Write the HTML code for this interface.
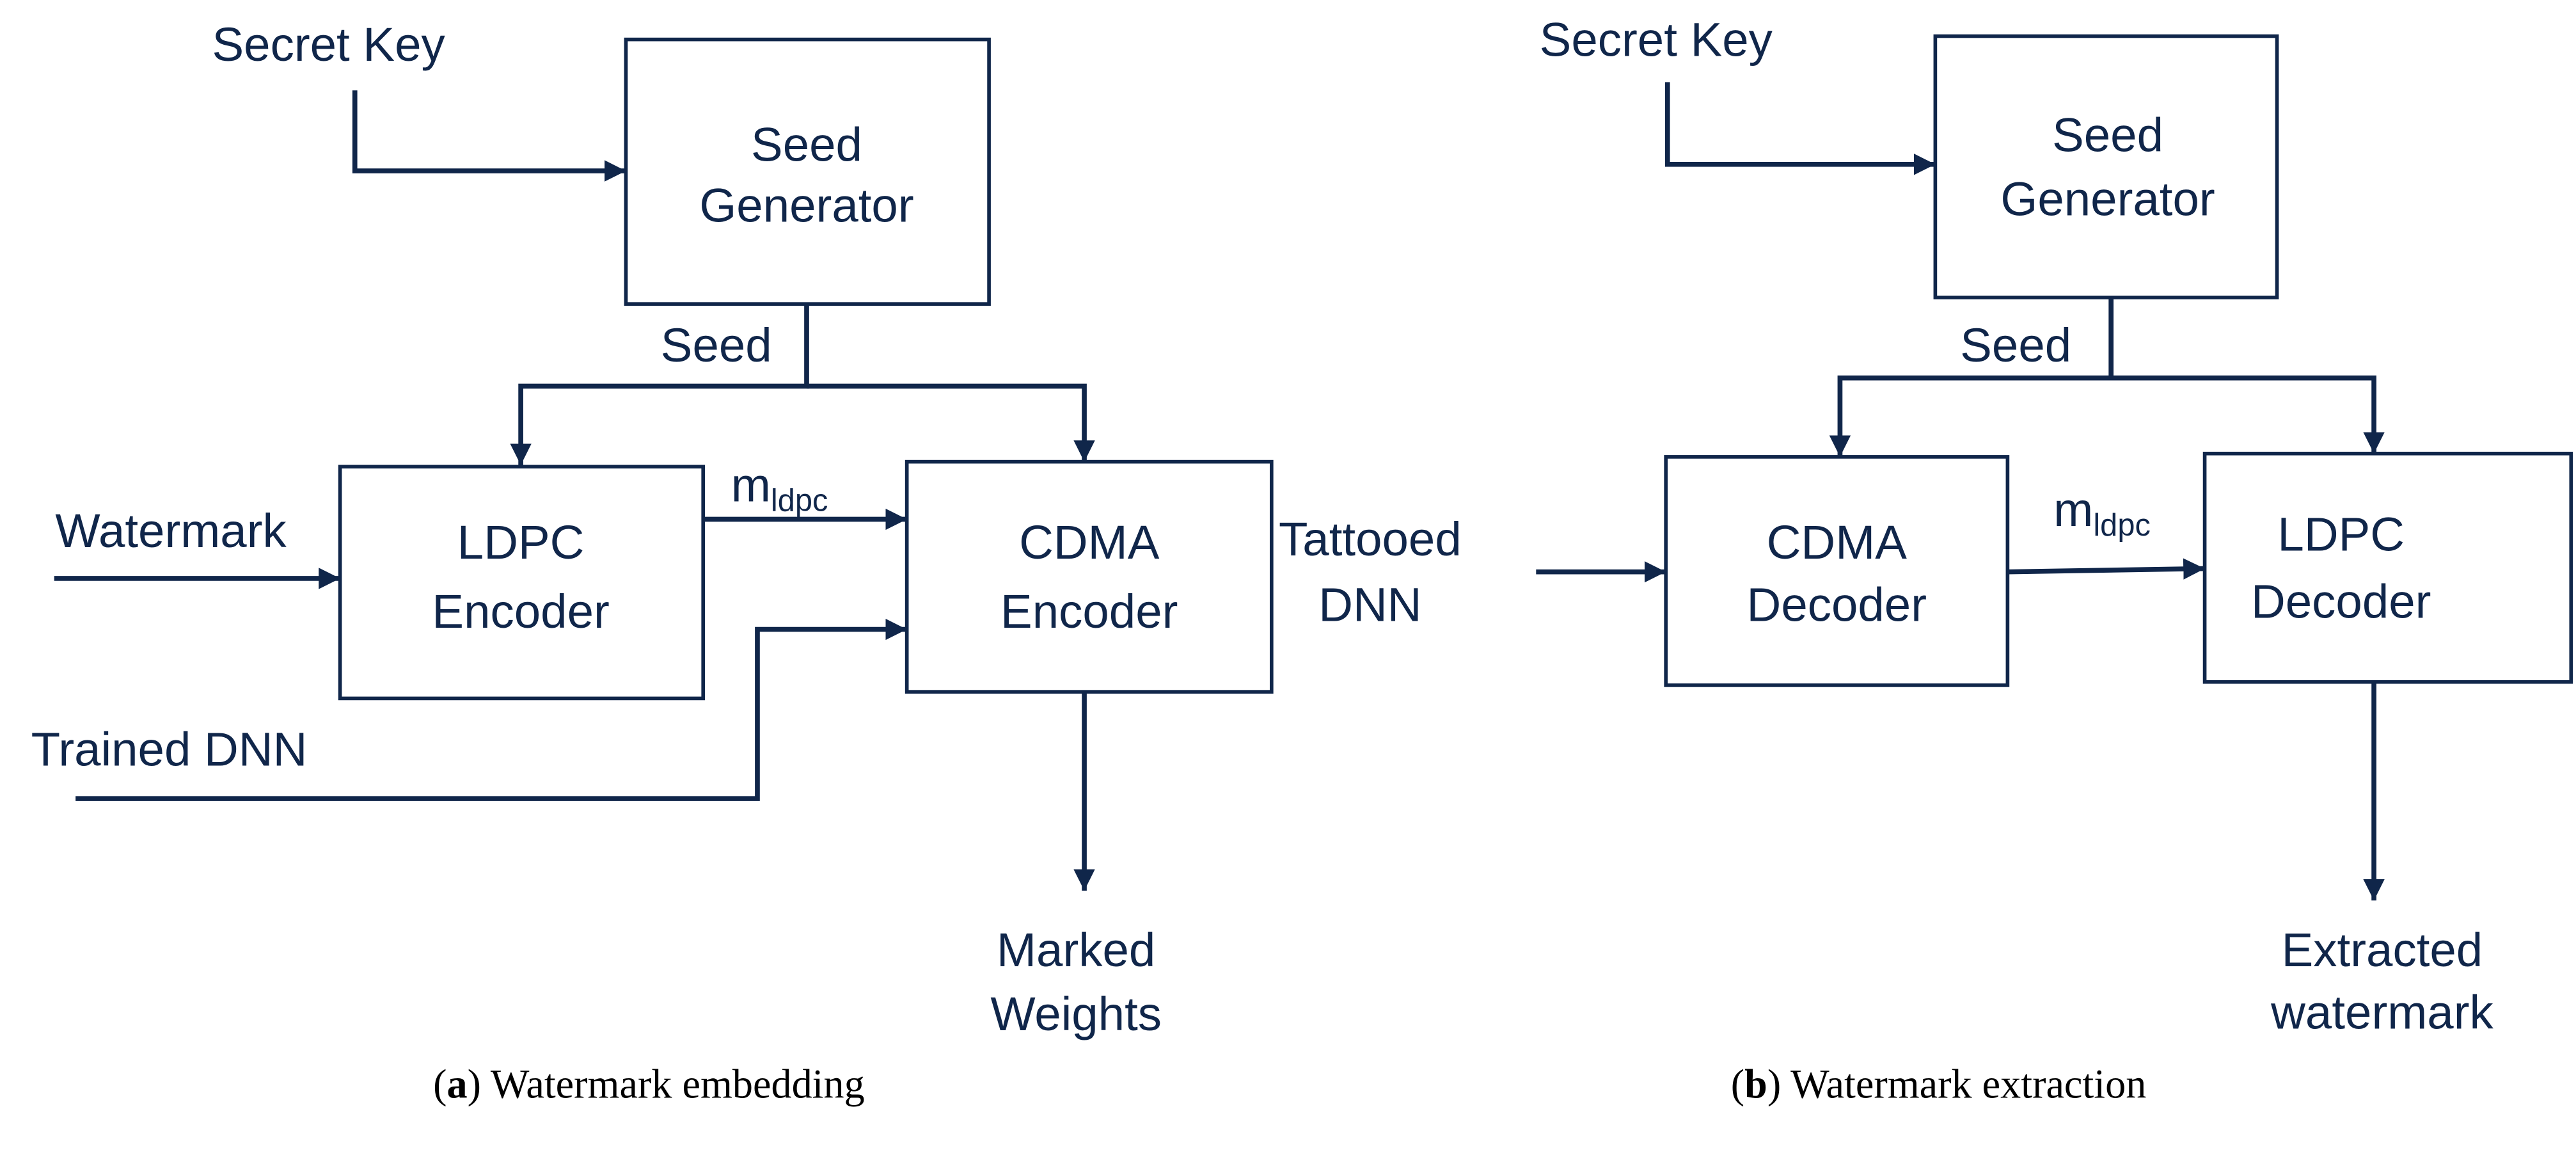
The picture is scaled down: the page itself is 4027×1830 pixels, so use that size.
<!DOCTYPE html>
<html><head><meta charset="utf-8"><style>
html,body{margin:0;padding:0;background:#fff;}
svg{display:block;}
text{font-family:"Liberation Sans",sans-serif;fill:#10264a;font-size:29px;}
.c{font-family:"Liberation Serif",serif;fill:#000;font-size:25px;}
</style></head><body>
<svg width="4027" height="1830" viewBox="0 0 1568 712.6" preserveAspectRatio="none">
<defs>
<marker id="h" viewBox="0 0 10 10" refX="10" refY="5" markerWidth="13" markerHeight="13" orient="auto" markerUnits="userSpaceOnUse"><path d="M0,0 L10,5 L0,10 z" fill="#10264a"/></marker></defs>
<g fill="none" stroke="#10264a" stroke-width="2.2">
<rect x="381" y="24" width="221" height="161"/>
<rect x="207" y="284" width="221" height="141"/>
<rect x="552" y="281" width="222" height="140"/>
<rect x="1178" y="22" width="208" height="159"/>
<rect x="1014" y="278" width="208" height="139"/>
<rect x="1342" y="276" width="223" height="139"/>
</g>
<g fill="none" stroke="#10264a" stroke-width="3" marker-end="url(#h)">
<polyline points="216,55 216,104 381,104"/>
<polyline points="491,185 491,235 317,235 317,283"/>
<polyline points="491,235 660,235 660,281"/>
<polyline points="428,316 552,316"/>
<polyline points="33,352 207,352"/>
<polyline points="46,486 461,486 461,383 552,383"/>
<polyline points="660,421 660,542"/>
<polyline points="1015,50 1015,100 1178,100"/>
<polyline points="1285,181 1285,230 1120,230 1120,278"/>
<polyline points="1285,230 1445,230 1445,276"/>
<polyline points="1222,348 1342,346"/>
<polyline points="935,348 1014,348"/>
<polyline points="1445,415 1445,548"/>
</g>
<g text-anchor="middle">
<text x="200" y="37">Secret Key</text>
<text x="491" y="98">Seed</text>
<text x="491" y="135">Generator</text>
<text x="436" y="220">Seed</text>
<text x="317" y="340">LDPC</text>
<text x="317" y="382">Encoder</text>
<text x="663" y="340">CDMA</text>
<text x="663" y="382">Encoder</text>
<text x="104" y="333">Watermark</text>
<text x="103" y="466">Trained DNN</text>
<text x="655" y="588">Marked</text>
<text x="655" y="627">Weights</text>
<text x="1008" y="34">Secret Key</text>
<text x="1283" y="92">Seed</text>
<text x="1283" y="131">Generator</text>
<text x="1227" y="220">Seed</text>
<text x="1118" y="340">CDMA</text>
<text x="1118" y="378">Decoder</text>
<text x="1425" y="335">LDPC</text>
<text x="1425" y="376">Decoder</text>
<text x="834" y="338">Tattooed</text>
<text x="834" y="378">DNN</text>
<text x="1450" y="588">Extracted</text>
<text x="1450" y="626">watermark</text>
</g>
<text x="445" y="305">m<tspan font-size="19" dy="6">ldpc</tspan></text>
<text x="1250" y="320">m<tspan font-size="19" dy="6">ldpc</tspan></text>
<text class="c" x="395" y="668" text-anchor="middle">(<tspan font-weight="bold">a</tspan>) Watermark embedding</text>
<text class="c" x="1180" y="668" text-anchor="middle">(<tspan font-weight="bold">b</tspan>) Watermark extraction</text>
</svg>
</body></html>
